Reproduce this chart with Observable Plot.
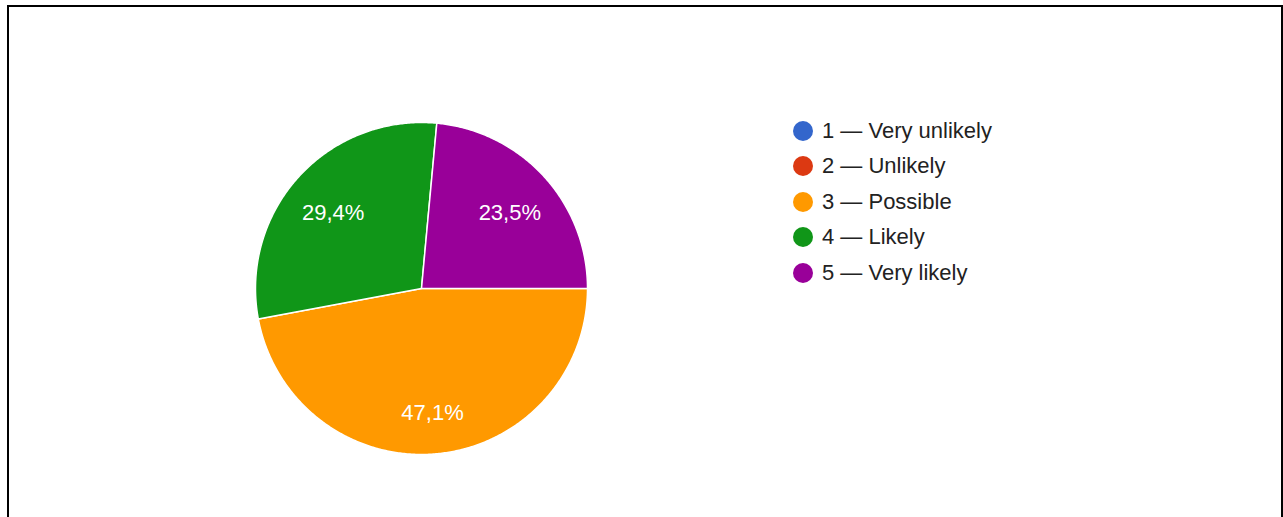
<!DOCTYPE html>
<html><head><meta charset="utf-8">
<script src="https://cdn.jsdelivr.net/npm/d3@7"></script>
<script src="https://cdn.jsdelivr.net/npm/@observablehq/plot@0.6"></script>
<style>
html,body{margin:0;padding:0;background:#fff;width:1283px;height:517px;overflow:hidden;font-family:"Liberation Sans",Arial,sans-serif;}
#frame{position:absolute;left:7px;top:5px;width:1272px;height:530px;border:2px solid #000;border-bottom:none;}
#pie{position:absolute;left:251px;top:117.5px;}
#legend{position:absolute;left:793px;top:113px;}
.item{display:flex;align-items:center;height:35.5px;font-size:22px;color:#222;white-space:nowrap;}
.sw{width:20px;height:20px;border-radius:50%;margin-right:9px;flex:none;}
</style>
</head><body>
<div id="frame"></div>
<div id="pie"></div>
<div id="legend"></div>
<script>
const categories = ["1 — Very unlikely", "2 — Unlikely", "3 — Possible", "4 — Likely", "5 — Very likely"];
const counts = [0, 0, 8, 5, 4];
const colors = ["#3366cc", "#dc3912", "#ff9900", "#109618", "#990099"];

const total = d3.sum(counts);
const start = Math.PI / 2; // first slice begins at 3 o'clock, clockwise
const arcs = d3.pie().sort(null).startAngle(start).endAngle(start + 2 * Math.PI)(counts);

const pts = [];
const labels = [];
arcs.forEach((a, i) => {
  if (a.value <= 0) return;
  const cat = categories[i];
  pts.push({cat, x: 0, y: 0});
  const n = Math.max(2, Math.ceil((a.endAngle - a.startAngle) / (Math.PI / 360)));
  for (let k = 0; k <= n; k++) {
    const t = a.startAngle + (a.endAngle - a.startAngle) * k / n;
    pts.push({cat, x: Math.sin(t), y: Math.cos(t)});
  }
  const m = (a.startAngle + a.endAngle) / 2;
  labels.push({
    x: 0.72 * Math.sin(m), y: 0.72 * Math.cos(m) - 0.03,
    text: (a.value / total * 100).toFixed(1).replace(".", ",") + "%"
  });
});

const chart = Plot.plot({
  width: 340, height: 340,
  margin: 0, inset: 4,
  x: {domain: [-1, 1], axis: null},
  y: {domain: [-1, 1], axis: null},
  color: {domain: categories, range: colors},
  marks: [
    Plot.line(pts, {x: "x", y: "y", z: "cat", fill: "cat", stroke: "white", strokeWidth: 1.5, curve: "linear-closed"}),
    Plot.text(labels, {x: "x", y: "y", text: "text", fill: "white", fontSize: 22, fontFamily: "Liberation Sans, Arial, sans-serif"})
  ]
});
document.getElementById("pie").appendChild(chart);

const legend = document.getElementById("legend");
categories.forEach((c, i) => {
  const row = document.createElement("div");
  row.className = "item";
  const sw = document.createElement("span");
  sw.className = "sw";
  sw.style.background = colors[i];
  const tx = document.createElement("span");
  tx.textContent = c;
  row.appendChild(sw); row.appendChild(tx);
  legend.appendChild(row);
});
</script>
</body></html>
